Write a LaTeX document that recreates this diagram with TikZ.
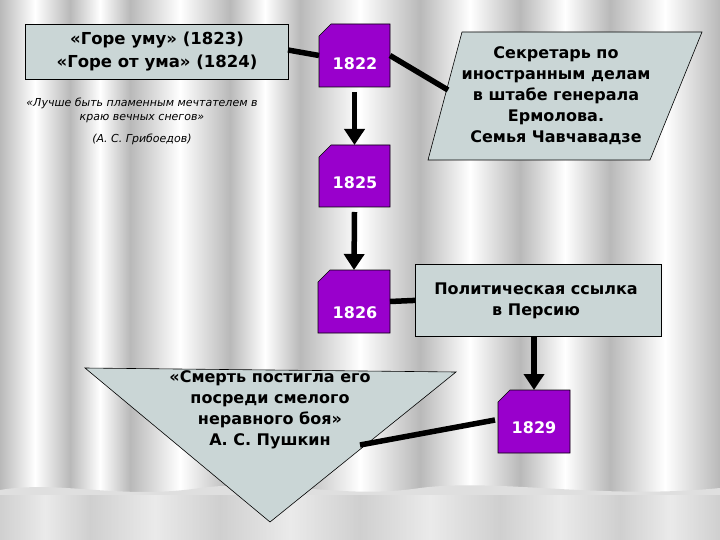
\documentclass[tikz,border=0pt]{standalone}
\usepackage{fontspec}
\setmainfont{DejaVu Sans}
\setsansfont{DejaVu Sans}
\usetikzlibrary{arrows.meta,shapes.geometric}
\definecolor{boxfill}{HTML}{CAD6D6}
\definecolor{purp}{HTML}{9900CC}
\tikzset{
  graybox/.style={draw=black,fill=boxfill,line width=0.8pt},
  boldtxt/.style={font=\bfseries\fontsize{16}{21}\selectfont,align=center},
  yr/.style={text=white,font=\bfseries\fontsize{16}{18}\selectfont},
  conn/.style={line width=5.5pt},
  arr/.style={line width=5.5pt,-{Triangle[length=16pt,width=20pt]}}
}
\begin{document}
\begin{tikzpicture}[x=1pt,y=-1pt]
\useasboundingbox (0,0) rectangle (720,540);
% curtain background
\foreach \a/\b in {0/70,70/130,130/230,230/300,300/420,420/520,520/610,610/720}{
  \shade[left color=gray!55,right color=gray!55,middle color=white] (\a,0) rectangle (\b,540);
}
\fill[gray!25] (0,490) .. controls (60,480) and (120,500) .. (200,488) .. controls (280,478) and (340,500) .. (420,488) .. controls (500,478) and (600,500) .. (720,488) -- (720,540) -- (0,540) -- cycle;
\foreach \a/\b in {0/90,90/220,220/360,360/500,500/620,620/720}{
  \shade[left color=gray!45,right color=gray!45,middle color=gray!10,opacity=0.6] (\a,495) rectangle (\b,540);
}
% top-left box
\node[graybox,minimum width=263,minimum height=55,anchor=north west] (goreb) at (25,24) {};
\node[boldtxt,font=\bfseries\fontsize{16.5}{23}\selectfont] (gore) at (157,52) {«Горе уму» (1823)\\«Горе от ума» (1824)};
\node[font=\itshape\fontsize{11}{14}\selectfont,align=center] (quote) at (142,110) {«Лучше быть пламенным мечтателем в\\краю вечных снегов»};
\node[font=\itshape\fontsize{11}{14}\selectfont] (author) at (142,139) {(А. С. Грибоедов)};
% year boxes
\newcommand{\yrbox}[5]{% name, x1,y1,x2,y2
  \fill[purp,draw=black,line width=0.6pt] (#2+12,#3) -- (#4,#3) -- (#4,#5) -- (#2,#5) -- (#2,#3+12) -- cycle;
  \coordinate (#1n) at ({(#2+#4)/2},#3);
  \coordinate (#1s) at ({(#2+#4)/2},#5);
  \coordinate (#1w) at (#2,{(#3+#5)/2});
  \coordinate (#1e) at (#4,{(#3+#5)/2});
}
\yrbox{y22}{319}{24}{390}{87}
\yrbox{y25}{319}{145}{390}{207}
\yrbox{y26}{318}{270}{390}{333}
\yrbox{y29}{498}{390}{570}{453}
\node[yr] (t22) at (355,64) {1822};
\node[yr] (t25) at (355,183) {1825};
\node[yr] (t26) at (355,313) {1826};
\node[yr] (t29) at (534,428) {1829};
% parallelogram
\fill[boxfill,draw=black,line width=0.6pt] (462,32) -- (702,32) -- (650,160) -- (428,160) -- cycle;
\coordinate (parw) at (448,90);
\node[boldtxt] (sek) at (556,96) {Секретарь по\\иностранным делам\\в штабе генерала\\Ермолова.\\Семья Чавчавадзе};
% politics box
\node[graybox,minimum width=246,minimum height=72,anchor=north west] (polb) at (415,264) {};
\node[boldtxt] (pol) at (536,301) {Политическая ссылка\\в Персию};
% triangle
\fill[boxfill,draw=black,line width=0.6pt] (85,368) -- (456,372) -- (270,522) -- cycle;
\coordinate (trin) at (360,445);
\node[boldtxt] (death) at (270,410) {«Смерть постигла его\\посреди смелого\\неравного боя»\\А. С. Пушкин};
% connectors
\coordinate (ge) at (288,50);
\draw[conn] (ge) -- (y22w);
\draw[conn] (y22e) -- (parw);
\draw[arr] (354.5,92) coordinate (a1) -- (y25n);
\draw[arr] (354.5,212) coordinate (a2) -- (y26n);
\draw[conn] (y26e) -- (polb.west);
\draw[arr] (534,336) coordinate (a3) -- (y29n);
\draw[conn] (495,420) coordinate (a4) -- (trin);
\end{tikzpicture}
\end{document}
